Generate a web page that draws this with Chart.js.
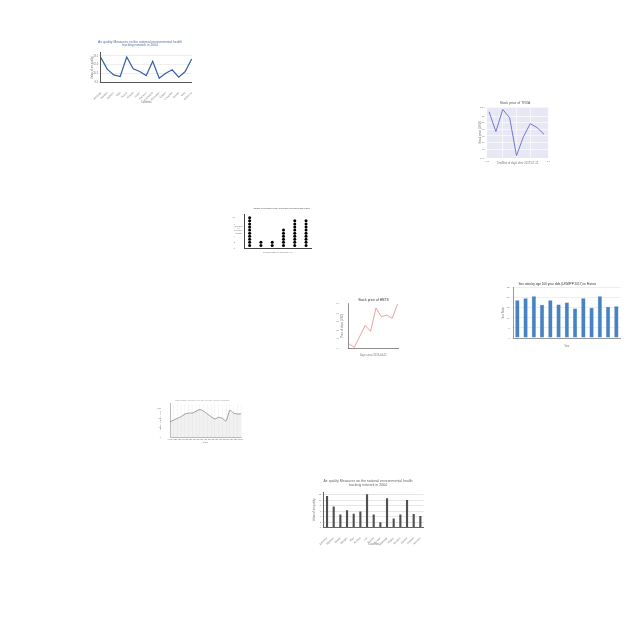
<!DOCTYPE html>
<html><head><meta charset="utf-8">
<script src="https://cdn.jsdelivr.net/npm/chart.js@4"></script>
<style>
html,body{margin:0;padding:0;background:#fff;width:640px;height:640px;overflow:hidden;position:relative}
canvas{position:absolute}
</style></head>
<body>
<script>
// ---------- DATA ----------
// Chart A: air quality line (top-left)
const aqCounties = ['Autauga','Baldwin','Barbour','Bibb','Blount','Bullock','Butler','Calhoun','Chambers','Cherokee','Chilton','Choctaw','Clarke','Clay','Cleburne'];
const aqValues = [13.25, 11.24, 10.27, 9.98, 13.31, 11.3, 10.84, 10.15, 12.57, 9.69, 10.55, 11.13, 9.86, 10.84, 12.97];
// Chart B: stock price TRXA (lavender)
const trxaDays = [0,1,2,3,4,5,6,7,8];
const trxaPrice = [21.65, 18.65, 22.0, 20.75, 15.0, 17.85, 19.85, 19.25, 18.25];
// Chart C: dot chart
const dotCats = ['Bavaria','Berlin','Bremen','Hesse','Saxony','Thuringia'];
const dotCounts = [10, 2, 2, 6, 9, 9];
// Chart D: sex ratio bars
const srYears = ['2010','2011','2012','2013','2014','2015','2016','2017','2018','2019','2020','2021','2022'];
const srValues = [18.8, 19.8, 20.8, 16.5, 18.8, 16.7, 17.7, 14.7, 19.8, 15.0, 20.8, 15.5, 15.8];
// Chart E: stock price HBTS (red)
const hbtsDays = [0,1,3,4,5,6,7,8,9];
const hbtsPrice = [10.37, 9.96, 12.54, 11.84, 14.58, 13.56, 13.76, 13.36, 15.07];
// Chart F: grey area line
const wDates = ['01-01','01-02','01-03','01-04','01-05','01-06','01-07','01-08','01-09','01-10','01-11','01-12','01-13','01-14','01-15','01-16','01-17','01-18','01-19','01-20'];
const wValues = [64, 71.5, 79, 86, 97, 101, 101, 109, 116, 109, 97, 86, 76, 83, 79, 67, 113, 101, 97, 98];
// Chart G: air quality bars (bottom)
const aqbCounties = ['Jefferson','Madison','Mobile','Morgan','Pike','Russell','Lee','Shelby','Sumter','Talladega','Walker','Winston','Colbert','Etowah','Houston'];
const aqbValues = [11.5, 7.7, 4.8, 6.3, 5.0, 5.9, 12.2, 4.8, 1.9, 10.7, 3.3, 4.8, 10.1, 4.9, 4.2];

// ---------- helpers ----------
const FONT = 'Liberation Sans';
Chart.defaults.font.family = FONT;
Chart.defaults.color = '#777';

Chart.register({
  id:'areaBg',
  beforeDraw(chart, args, opts){
    if(!opts || !opts.color) return;
    const a = chart.chartArea, ctx = chart.ctx;
    ctx.save(); ctx.fillStyle = opts.color;
    ctx.fillRect(a.left, a.top, a.right-a.left, a.bottom-a.top);
    ctx.restore();
  }
});
Chart.register({
  id:'sideText',
  afterDraw(chart, args, opts){
    if(!opts || !opts.lines) return;
    const ctx = chart.ctx;
    ctx.save();
    ctx.font = opts.size + 'px ' + FONT;
    ctx.fillStyle = opts.color || '#555';
    ctx.textAlign = 'center'; ctx.textBaseline = 'middle';
    opts.lines.forEach((t,i)=>ctx.fillText(t, opts.x, opts.y + i*opts.size*1.1));
    ctx.restore();
  }
});

function mk(left, top, w, h, cfg){
  const c = document.createElement('canvas');
  c.width = w; c.height = h;
  c.style.left = left+'px'; c.style.top = top+'px';
  c.style.width = w+'px'; c.style.height = h+'px';
  document.body.appendChild(c);
  cfg.options = Object.assign({responsive:false, animation:false, devicePixelRatio:1}, cfg.options);
  return new Chart(c, cfg);
}
function fitW(v){ return s => { s.width = v; }; }
function fitH(v){ return s => { s.height = v; }; }
function spacer(v){
  return {position:'right', display:true, afterFit:fitW(v), grid:{display:false}, border:{display:false}, ticks:{display:false}};
}
function ttl(text, size, padBottom, color){
  return {display:true, text, color: color||'#666', font:{size, lineHeight:1.1, weight:'normal'}, padding:{top:0,bottom:padBottom}};
}
const tickF = s => ({size:s});

// ---------- Chart A ----------
mk(80, 36, 120, 70, {
  type:'line',
  data:{labels:aqCounties, datasets:[{data:aqValues, borderColor:'#3560a8', borderWidth:1.2, pointRadius:0, tension:0, fill:false}]},
  options:{
    layout:{padding:{top:3.8, left:0, right:0, bottom:2}},
    plugins:{legend:{display:false}, tooltip:{enabled:false},
      title:ttl(['Air quality Measures on the national environmental health','tracking network in 2004'], 3.3, 5.9, '#56709c')},
    scales:{
      x:{afterFit:fitH(21.7), grid:{display:false}, border:{color:'#555'},
         ticks:{font:tickF(2.6), minRotation:45, maxRotation:45, padding:1, autoSkip:false},
         title:{display:true, text:'Counties', font:{size:2.8}, padding:0}},
      y:{afterFit:fitW(20.7), min:9, max:14, grid:{color:'#eee', tickLength:1.5}, border:{color:'#555'},
         ticks:{font:tickF(2.6), stepSize:0.5, padding:1},
         title:{display:true, text:'Value of air quality', font:{size:2.8}, padding:{top:11,bottom:0}}},
      r:spacer(8.3)
    }
  }
});

// ---------- Chart B ----------
mk(470, 98, 90, 68, {
  type:'line',
  data:{datasets:[{data:trxaDays.map((d,i)=>({x:d,y:trxaPrice[i]})), borderColor:'#7478d0', borderWidth:1, pointRadius:0, tension:0}]},
  options:{
    layout:{padding:{top:3, left:0, right:0, bottom:1}},
    plugins:{legend:{display:false}, tooltip:{enabled:false}, areaBg:{color:'#e7e8f3'},
      title:ttl('Stock price of TRXA', 3.4, 2.4, '#555')},
    scales:{
      x:{type:'linear', min:-0.34, max:8.63, afterFit:fitH(7), grid:{color:'#fff', lineWidth:0.6, tickLength:1}, border:{display:false},
         ticks:{font:tickF(2.4), stepSize:2, padding:1},
         title:{display:true, text:'Timeline of days after 2017-07-11', font:{size:2.8}, padding:0}},
      y:{min:14.65, max:22.35, afterFit:fitW(16.7), grid:{color:'#fff', lineWidth:0.6, tickLength:1}, border:{display:false},
         ticks:{font:tickF(2.4), stepSize:1, padding:1},
         title:{display:true, text:'Stock price (USD)', font:{size:2.8}, padding:{top:9,bottom:0}}},
      r:spacer(11.7)
    }
  }
});

// ---------- Chart C ----------
const dotData = [];
dotCats.forEach((c,i)=>{ for(let k=1;k<=dotCounts[i];k++) dotData.push({x:c, y:k}); });
mk(228, 204, 108, 51, {
  type:'line',
  data:{labels:dotCats, datasets:[{data:dotData, showLine:false, pointRadius:1.5, pointBackgroundColor:'#000', pointBorderColor:'#000', pointBorderWidth:0}]},
  options:{
    layout:{padding:{top:3.8, left:0, right:0, bottom:1}},
    plugins:{legend:{display:false}, tooltip:{enabled:false},
      title:ttl('Number of renewable energy cooperatives per federal state in 2016', 1.9, 4.8, '#444'),
      sideText:{lines:['Number','of','coops','(count)'], x:238.5-228, y:226-204, size:2.2, color:'#666'}},
    scales:{
      x:{type:'category', offset:true, afterFit:fitH(5.5), grid:{display:false}, border:{color:'#444'},
         ticks:{font:tickF(2.2), padding:0.5, maxRotation:0, autoSkip:false},
         title:{display:true, text:'Federal state of Germany (n)', font:{size:2.3}, padding:0}},
      y:{min:0, max:11, afterFit:fitW(16), grid:{display:false}, border:{color:'#444'},
         ticks:{font:tickF(2.2), stepSize:1, padding:1}},
      r:spacer(24.3)
    }
  }
});

// ---------- Chart D ----------
mk(494, 279, 127, 70, {
  type:'bar',
  data:{labels:srYears, datasets:[{data:srValues, backgroundColor:'#4683c4', borderColor:'#2e62a0', borderWidth:0.4, barPercentage:0.5, categoryPercentage:1}]},
  options:{
    layout:{padding:{top:3.2, left:0, right:0.2, bottom:1}},
    plugins:{legend:{display:false}, tooltip:{enabled:false},
      title:ttl('Sex ratio by age 100 year olds (UNWPP 2017) in France', 3.1, 2.1, '#333')},
    scales:{
      x:{afterFit:fitH(10), grid:{display:false}, border:{color:'#999'},
         ticks:{font:tickF(2.4), padding:2, maxRotation:0, autoSkip:false},
         title:{display:true, text:'Year', font:{size:2.6}, padding:0}},
      y:{min:0, max:25, afterFit:fitW(19.2), grid:{color:'#eee', tickLength:1.5}, border:{color:'#999'},
         ticks:{font:tickF(2.4), stepSize:5, padding:2},
         title:{display:true, text:'Sex Ratio', font:{size:2.6}, padding:{top:8,bottom:0}}}
    }
  }
});

// ---------- Chart E ----------
mk(336, 294, 75, 64, {
  type:'line',
  data:{datasets:[{data:hbtsDays.map((d,i)=>({x:d,y:hbtsPrice[i]})), borderColor:'#e4898c', borderWidth:0.8, pointRadius:0, tension:0}]},
  options:{
    layout:{padding:{top:4, left:0, right:0, bottom:1}},
    plugins:{legend:{display:false}, tooltip:{enabled:false},
      title:ttl('Stock price of HBTS', 3.4, 1.8, '#333')},
    scales:{
      x:{type:'linear', min:-0.12, max:9.13, afterFit:fitH(9), grid:{display:false}, border:{color:'#444', width:0.6},
         ticks:{font:tickF(2.4), stepSize:2, padding:1.5},
         title:{display:true, text:'Days since 2019-04-01', font:{size:2.6}, padding:0}},
      y:{min:9.88, max:15.11, afterFit:fitW(12.3), grid:{display:false}, border:{color:'#444', width:0.6},
         ticks:{font:tickF(2.4), stepSize:1, padding:1.5},
         title:{display:true, text:'Price of share (USD)', font:{size:2.6}, padding:{top:5,bottom:0}}},
      r:spacer(12.7)
    }
  }
});

// ---------- Chart F ----------
mk(155, 396, 95, 49, {
  type:'line',
  data:{labels:wDates, datasets:[{data:wValues, borderColor:'#9a9a9a', borderWidth:1, pointRadius:0, tension:0.2, fill:true, backgroundColor:'rgba(200,200,200,0.25)'}]},
  options:{
    layout:{padding:{top:2.8, left:0, right:0, bottom:1}},
    plugins:{legend:{display:false}, tooltip:{enabled:false},
      title:ttl('Water intake (in liters) per day over the period of January', 2.2, 2.6, '#999')},
    scales:{
      x:{afterFit:fitH(7), grid:{color:'#eee', lineWidth:0.5, tickLength:1}, border:{color:'#bbb'},
         ticks:{font:tickF(1.8), padding:0.5, maxRotation:0, autoSkip:false},
         title:{display:true, text:'Date', font:{size:2.4}, padding:0}},
      y:{min:0, max:140, afterFit:fitW(15), grid:{display:false}, border:{color:'#bbb'},
         ticks:{font:tickF(2.2), stepSize:20, padding:1},
         title:{display:true, text:'Water intake (liters)', font:{size:2.2}, padding:{top:4,bottom:0}}},
      r:spacer(9)
    }
  }
});

// ---------- Chart G ----------
mk(305, 475, 126, 75, {
  type:'bar',
  data:{labels:aqbCounties, datasets:[{data:aqbValues, backgroundColor:'#505050', barPercentage:0.32, categoryPercentage:1}]},
  options:{
    layout:{padding:{top:4.5, left:0, right:0, bottom:4}},
    plugins:{legend:{display:false}, tooltip:{enabled:false},
      title:ttl(['Air quality Measures on the national environmental health','tracking network in 2004'], 3.5, 4.8, '#666')},
    scales:{
      x:{afterFit:fitH(18.5), grid:{display:false}, border:{color:'#666'},
         ticks:{font:tickF(2.6), minRotation:45, maxRotation:45, padding:1, autoSkip:false},
         title:{display:true, text:'Counties', font:{size:2.8}, padding:0}},
      y:{min:0, max:13, afterFit:fitW(18.7), grid:{color:'#e6e6e6', tickLength:1.5}, border:{color:'#666'},
         ticks:{font:tickF(2.4), stepSize:1, padding:1},
         title:{display:true, text:'Value of air quality', font:{size:2.8}, padding:{top:8,bottom:0}}},
      r:spacer(7.3)
    }
  }
});
</script>
</body></html>
